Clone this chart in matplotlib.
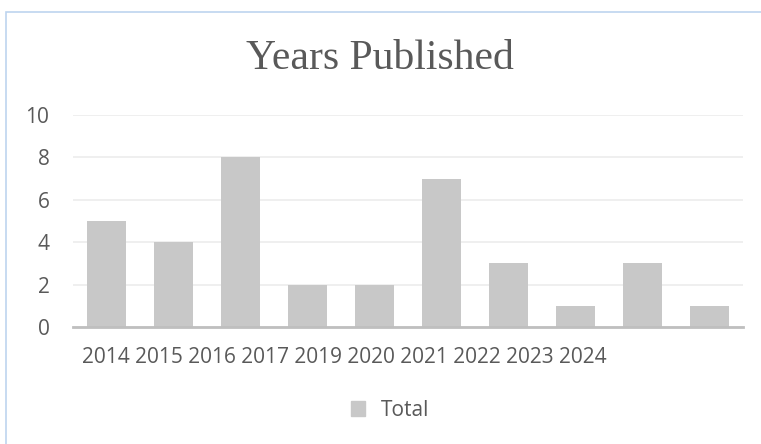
import matplotlib.pyplot as plt
from matplotlib.patches import Rectangle

years = ["2014", "2015", "2016", "2017", "2019", "2020", "2021", "2022", "2023", "2024"]
totals = [5, 4, 8, 2, 2, 7, 3, 1, 3, 1]
y_ticks = [0, 2, 4, 6, 8, 10]

W, H = 761, 444
text_col = "#595959"
bar_col = "#c8c8c8"

plt.rcParams['font.family'] = ['Open Sans', 'DejaVu Sans']

fig = plt.figure(figsize=(W / 100, H / 100), dpi=100)
ax = fig.add_axes([73 / W, 1 - 327 / H, (743 - 73) / W, (327 - 115) / H])

ax.bar(range(len(totals)), totals, width=0.57, color=bar_col, zorder=2)
ax.set_xlim(-0.5, len(totals) - 0.5)
ax.set_ylim(0, 10)
ax.set_yticks(y_ticks)
ax.set_yticklabels([str(t) for t in y_ticks], fontsize=15, color=text_col)
ax.tick_params(axis='y', length=0, pad=17)
ax.set_xticks([])
ax.grid(axis='y', color='#eeeeee', linewidth=1.3, zorder=0)
for s in ['top', 'right', 'left']:
    ax.spines[s].set_visible(False)
ax.spines['bottom'].set_color('#bfbfbf')
ax.spines['bottom'].set_linewidth(2)
ax.spines['bottom'].set_zorder(3)

# category labels come out as one run of text under the axis
fig.text(82 / W, 1 - 363 / H, " ".join(years), fontsize=15, color=text_col,
         ha='left', va='baseline')

fig.text(380 / W, 1 - 69 / H, "Years Published", fontsize=30, color=text_col,
         family='Liberation Serif', ha='center', va='baseline')

handle = Rectangle((0, 0), 1, 1, color=bar_col)
fig.legend([handle], ["Total"], loc='center', bbox_to_anchor=(390 / W, 1 - 410 / H),
           frameon=False, fontsize=15, labelcolor=text_col,
           handlelength=0.7, handleheight=0.7, handletextpad=0.75)

# chart area frame
fig.patches.append(Rectangle((6 / W, -0.05), 1.0, 1.05 - 12 / H, transform=fig.transFigure,
                             fill=False, edgecolor='#bdd4ef', linewidth=1.2))

fig.savefig("out.png", dpi=100)
